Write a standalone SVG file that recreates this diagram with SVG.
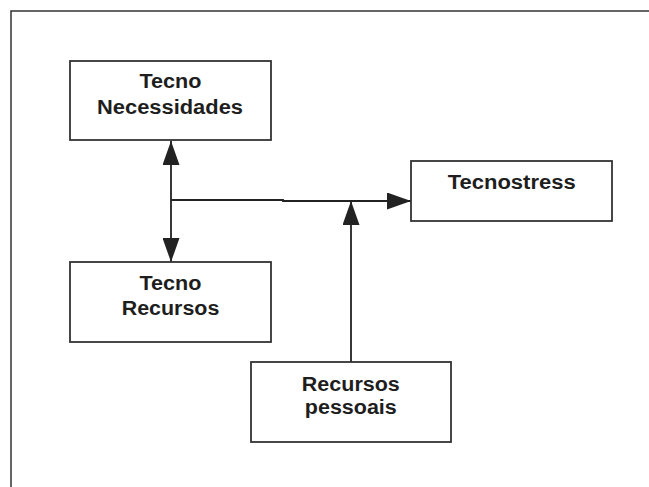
<svg xmlns="http://www.w3.org/2000/svg" width="649" height="487" viewBox="0 0 649 487">
<defs>
<style>
.box{fill:#fff;stroke:#333;stroke-width:1.8}
.t{font-family:"Liberation Sans",Arial,sans-serif;font-weight:bold;font-size:19.5px;fill:#1e1e1e;text-anchor:middle}
.c{stroke:#222;stroke-width:1.8;fill:none}
.frame{stroke:#333;stroke-width:1.5;fill:none}
</style>
<marker id="ah" viewBox="0 0 24 17" refX="24" refY="8.5" markerWidth="24" markerHeight="17" markerUnits="userSpaceOnUse" orient="auto-start-reverse">
<path d="M0,0 L24,8.5 L0,17 Z" fill="#222"/>
</marker>
</defs>
<rect width="649" height="487" fill="#fff"/>
<path class="frame" d="M11,487 V11 H649"/>
<g id="connectors">
<line class="c" x1="171" y1="141" x2="171" y2="262" marker-start="url(#ah)" marker-end="url(#ah)"/>
<path class="c" d="M171,200 H283 V201 H411" marker-end="url(#ah)"/>
<line class="c" x1="351" y1="362" x2="351" y2="201" marker-end="url(#ah)"/>
</g>
<g id="tecno-necessidades">
<rect class="box" x="70" y="61" width="201" height="79"/>
<text class="t" x="170.5" y="88" textLength="62" lengthAdjust="spacingAndGlyphs">Tecno</text>
<text class="t" x="170" y="114" textLength="146" lengthAdjust="spacingAndGlyphs">Necessidades</text>
</g>
<g id="tecnostress">
<rect class="box" x="411" y="161" width="201" height="60"/>
<text class="t" x="511.7" y="189" textLength="128" lengthAdjust="spacingAndGlyphs">Tecnostress</text>
</g>
<g id="tecno-recursos">
<rect class="box" x="70" y="262" width="201" height="80"/>
<text class="t" x="170.4" y="290" textLength="62" lengthAdjust="spacingAndGlyphs">Tecno</text>
<text class="t" x="170.5" y="315" textLength="97.6" lengthAdjust="spacingAndGlyphs">Recursos</text>
</g>
<g id="recursos-pessoais">
<rect class="box" x="251" y="362" width="200" height="80"/>
<text class="t" x="350.8" y="391" textLength="98" lengthAdjust="spacingAndGlyphs">Recursos</text>
<text class="t" x="350.8" y="414" textLength="92" lengthAdjust="spacingAndGlyphs">pessoais</text>
</g>
</svg>
